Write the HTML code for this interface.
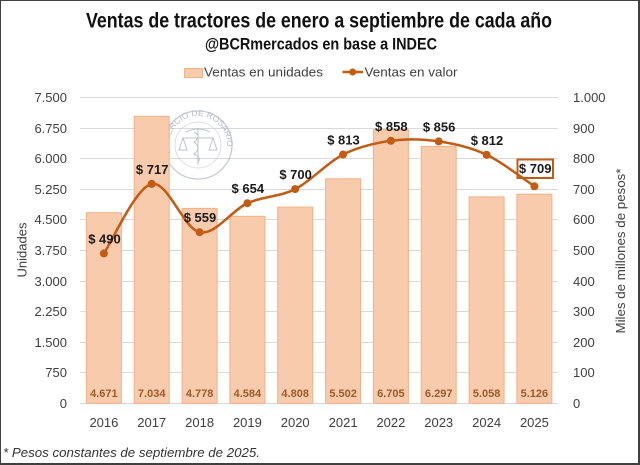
<!DOCTYPE html>
<html>
<head>
<meta charset="utf-8">
<style>
html,body{margin:0;padding:0;background:#fff;}
svg{display:block;}
text{font-family:"Liberation Sans",sans-serif;}
</style>
</head>
<body>
<svg width="640" height="465" viewBox="0 0 640 465" xmlns="http://www.w3.org/2000/svg">
<rect x="0" y="0" width="640" height="465" fill="#fff"/>
<!-- border -->
<rect x="0" y="0" width="640" height="1" fill="#404040"/>
<rect x="0" y="0" width="1" height="465" fill="#404040"/>
<rect x="638" y="0" width="2" height="465" fill="#404040"/>
<rect x="0" y="463" width="640" height="2" fill="#404040"/>

<!-- title -->
<text x="86" y="27.5" font-size="21" font-weight="bold" fill="#111" textLength="466" lengthAdjust="spacingAndGlyphs">Ventas de tractores de enero a septiembre de cada año</text>
<text x="205" y="49.5" font-size="17" font-weight="bold" fill="#111" textLength="232" lengthAdjust="spacingAndGlyphs">@BCRmercados en base a INDEC</text>

<!-- legend -->
<rect x="184.5" y="68.5" width="18" height="9" fill="#F8CBAD" stroke="#F4B183" stroke-width="1"/>
<text x="204" y="76.5" font-size="13" fill="#404040" textLength="119" lengthAdjust="spacingAndGlyphs">Ventas en unidades</text>
<line x1="342.5" y1="72" x2="363" y2="72" stroke="#C55A11" stroke-width="2.5"/>
<circle cx="352.7" cy="72" r="3.5" fill="#C55A11"/>
<text x="364.5" y="76.5" font-size="13" fill="#404040" textLength="93" lengthAdjust="spacingAndGlyphs">Ventas en valor</text>

<!-- gridlines -->
<g stroke="#D9D9D9" stroke-width="1" shape-rendering="crispEdges">
<line x1="80" x2="558" y1="97.5" y2="97.5"/>
<line x1="80" x2="558" y1="128.5" y2="128.5"/>
<line x1="80" x2="558" y1="158.5" y2="158.5"/>
<line x1="80" x2="558" y1="189.5" y2="189.5"/>
<line x1="80" x2="558" y1="219.5" y2="219.5"/>
<line x1="80" x2="558" y1="250.5" y2="250.5"/>
<line x1="80" x2="558" y1="281.5" y2="281.5"/>
<line x1="80" x2="558" y1="311.5" y2="311.5"/>
<line x1="80" x2="558" y1="342.5" y2="342.5"/>
<line x1="80" x2="558" y1="372.5" y2="372.5"/>
<line x1="80" x2="558" y1="403.5" y2="403.5"/>
</g>

<!-- watermark logo -->
<g opacity="0.75">
<defs>
<path id="arc" d="M 170.7 154.9 A 29 29 0 1 1 216.6 167.2"/>
</defs>
<circle cx="198" cy="145" r="34" fill="none" stroke="#B4BAC6" stroke-width="1.3"/>
<circle cx="198" cy="145" r="23" fill="none" stroke="#C4C9D2" stroke-width="0.8"/>
<text font-size="8.5" fill="#9EA6B4"><textPath href="#arc">COMERCIO DE ROSARIO</textPath></text>
<g stroke="#A8AFBC" stroke-width="1" fill="none">
<line x1="198" y1="128" x2="198" y2="165"/>
<line x1="183" y1="138" x2="213" y2="138"/>
<path d="M183 138 L179 150 L187 150 Z"/>
<path d="M213 138 L209 150 L217 150 Z"/>
<path d="M194 132 Q202 136 194 142 Q202 148 194 154 Q202 158 198 162"/>
<path d="M186 132 Q198 126 210 132"/>
</g>
</g>

<!-- bars -->
<g fill="#F8CBAD" stroke="#F4B183" stroke-width="1">
<rect x="86.4" y="212.7" width="35" height="190.6"/>
<rect x="134.2" y="116.3" width="35" height="287.0"/>
<rect x="182.1" y="208.4" width="35" height="194.9"/>
<rect x="229.9" y="216.3" width="35" height="187.0"/>
<rect x="277.7" y="207.1" width="35" height="196.2"/>
<rect x="325.6" y="178.8" width="35" height="224.5"/>
<rect x="373.4" y="129.7" width="35" height="273.6"/>
<rect x="421.2" y="146.4" width="35" height="256.9"/>
<rect x="469.1" y="196.9" width="35" height="206.4"/>
<rect x="516.9" y="194.2" width="35" height="209.1"/>
</g>

<!-- bar value labels -->
<g font-size="11" font-weight="bold" fill="#9E5A2A" text-anchor="middle">
<text x="103.9" y="397">4.671</text>
<text x="151.7" y="397">7.034</text>
<text x="199.6" y="397">4.778</text>
<text x="247.4" y="397">4.584</text>
<text x="295.2" y="397">4.808</text>
<text x="343.1" y="397">5.502</text>
<text x="390.9" y="397">6.705</text>
<text x="438.7" y="397">6.297</text>
<text x="486.6" y="397">5.058</text>
<text x="534.4" y="397">5.126</text>
</g>

<!-- line -->
<path d="M103.9 253.4 C111.9 241.8 135.8 187.4 151.7 183.9 C167.6 180.4 183.7 229.0 199.6 232.2 C215.5 235.4 231.5 210.4 247.4 203.2 C263.3 196.0 279.3 197.2 295.2 189.1 C311.1 181.0 327.2 162.6 343.1 154.5 C359.0 146.5 375.0 143.0 390.9 140.8 C406.8 138.6 422.8 139.1 438.7 141.4 C454.6 143.7 470.7 147.3 486.6 154.8 C502.5 162.3 526.4 181.0 534.4 186.3" fill="none" stroke="#C55A11" stroke-width="2.5"/>
<g fill="#C55A11">
<circle cx="103.9" cy="253.4" r="4"/>
<circle cx="151.7" cy="183.9" r="4"/>
<circle cx="199.6" cy="232.2" r="4"/>
<circle cx="247.4" cy="203.2" r="4"/>
<circle cx="295.2" cy="189.1" r="4"/>
<circle cx="343.1" cy="154.5" r="4"/>
<circle cx="390.9" cy="140.8" r="4"/>
<circle cx="438.7" cy="141.4" r="4"/>
<circle cx="486.6" cy="154.8" r="4"/>
<circle cx="534.4" cy="186.3" r="4"/>
</g>

<!-- line labels -->
<g font-size="13" font-weight="bold" fill="#1a1a1a" text-anchor="middle">
<text x="104.5" y="243.5">$ 490</text>
<text x="152.2" y="173.8">$ 717</text>
<text x="200" y="222.2">$ 559</text>
<text x="247.8" y="193.2">$ 654</text>
<text x="295.6" y="179.1">$ 700</text>
<text x="343.5" y="144.5">$ 813</text>
<text x="391.3" y="130.8">$ 858</text>
<text x="439.1" y="131.4">$ 856</text>
<text x="487" y="144.8">$ 812</text>
<text x="535.2" y="173.2">$ 709</text>
</g>
<rect x="517.5" y="159.5" width="35.5" height="18.5" fill="none" stroke="#C55A11" stroke-width="2"/>

<!-- left axis labels -->
<g font-size="13" fill="#404040" text-anchor="end">
<text x="67" y="102">7.500</text>
<text x="67" y="133">6.750</text>
<text x="67" y="163">6.000</text>
<text x="67" y="194">5.250</text>
<text x="67" y="224">4.500</text>
<text x="67" y="255">3.750</text>
<text x="67" y="286">3.000</text>
<text x="67" y="316">2.250</text>
<text x="67" y="347">1.500</text>
<text x="67" y="377">750</text>
<text x="67" y="408">0</text>
</g>
<!-- right axis labels -->
<g font-size="13" fill="#404040" text-anchor="start">
<text x="573" y="102">1.000</text>
<text x="573" y="133">900</text>
<text x="573" y="163">800</text>
<text x="573" y="194">700</text>
<text x="573" y="224">600</text>
<text x="573" y="255">500</text>
<text x="573" y="286">400</text>
<text x="573" y="316">300</text>
<text x="573" y="347">200</text>
<text x="573" y="377">100</text>
<text x="573" y="408">0</text>
</g>

<!-- x labels -->
<g font-size="13" fill="#404040" text-anchor="middle">
<text x="103.9" y="427">2016</text>
<text x="151.7" y="427">2017</text>
<text x="199.6" y="427">2018</text>
<text x="247.4" y="427">2019</text>
<text x="295.2" y="427">2020</text>
<text x="343.1" y="427">2021</text>
<text x="390.9" y="427">2022</text>
<text x="438.7" y="427">2023</text>
<text x="486.6" y="427">2024</text>
<text x="534.4" y="427">2025</text>
</g>

<!-- axis titles -->
<text transform="translate(26.5,250) rotate(-90)" font-size="13" fill="#404040" text-anchor="middle">Unidades</text>
<text transform="translate(625,251) rotate(-90)" font-size="13" fill="#404040" text-anchor="middle" textLength="165" lengthAdjust="spacingAndGlyphs">Miles de millones de pesos*</text>

<!-- footnote -->
<text x="3" y="457" font-size="13" font-style="italic" fill="#333" textLength="257" lengthAdjust="spacingAndGlyphs">* Pesos constantes de septiembre de 2025.</text>
</svg>
</body>
</html>
